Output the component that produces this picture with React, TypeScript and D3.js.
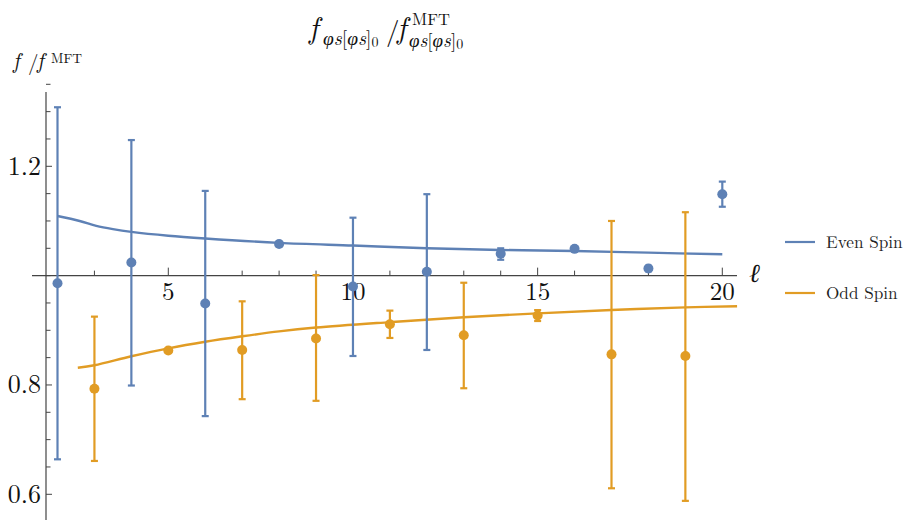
import React from "react";
import * as d3 from "d3";

const evenL = [2, 4, 6, 8, 10, 12, 14, 16, 18, 20];
const evenV = [0.986, 1.024, 0.949, 1.058, 0.98, 1.007, 1.04, 1.049, 1.013, 1.149];
const evenLo = [0.664, 0.799, 0.743, 1.057, 0.853, 0.864, 1.029, 1.047, 1.008, 1.126];
const evenHi = [1.308, 1.248, 1.155, 1.059, 1.106, 1.149, 1.05, 1.051, 1.018, 1.172];

const oddL = [3, 5, 7, 9, 11, 13, 15, 17, 19];
const oddV = [0.793, 0.863, 0.864, 0.885, 0.911, 0.891, 0.927, 0.856, 0.853];
const oddLo = [0.661, 0.86, 0.774, 0.771, 0.886, 0.794, 0.917, 0.611, 0.588];
const oddHi = [0.925, 0.866, 0.953, 1.001, 0.936, 0.987, 0.937, 1.1, 1.116];

const evenCurveL = [2, 2.6, 3.05, 3.5, 4, 5, 6, 8, 10, 12, 14, 16, 18, 20];
const evenCurveV = [1.109, 1.1, 1.091, 1.085, 1.08, 1.073, 1.068, 1.06, 1.055, 1.05, 1.047, 1.045, 1.042, 1.039];

const oddCurveL = [2.55, 3, 4, 5, 6, 7, 8, 9, 11, 13, 15, 17, 19, 20.4];
const oddCurveV = [0.8315, 0.836, 0.8525, 0.867, 0.879, 0.889, 0.898, 0.905, 0.915, 0.924, 0.931, 0.937, 0.942, 0.944];

const xTickMajor = [5, 10, 15, 20];
const yTickMajor = [0.6, 0.8, 1.2];

const BLUE = "#5E81B5";
const ORANGE = "#E19C24";
const AXIS = "#444";
const SERIF = '"Latin Modern Roman", "Liberation Serif", serif';

export default function App() {
  const x = d3.scaleLinear().domain([2, 20]).range([57.5, 722.3]);
  const y = d3.scaleLinear().domain([0.6, 1.2]).range([494.3, 166.3]);
  const axisY = y(1);
  const axisX = 46;

  const line = d3
    .line<[number, number]>()
    .x((d) => x(d[0]))
    .y((d) => y(d[1]))
    .curve(d3.curveCatmullRom.alpha(0.5));

  const evenCurve = evenCurveL.map((l, i) => [l, evenCurveV[i]] as [number, number]);
  const oddCurve = oddCurveL.map((l, i) => [l, oddCurveV[i]] as [number, number]);

  const xMinor = d3.range(2, 21);
  const yMinor = d3.range(0.55, 1.3501, 0.05);

  const series = [
    { L: evenL, V: evenV, Lo: evenLo, Hi: evenHi, c: BLUE },
    { L: oddL, V: oddV, Lo: oddLo, Hi: oddHi, c: ORANGE },
  ];

  const ts = { fontFamily: SERIF };

  return (
    <svg
      width={905}
      height={520}
      style={{ position: "absolute", left: 0, top: 0, background: "#fff", fontFamily: SERIF }}
    >
      {/* axes */}
      <line x1={32} x2={737} y1={axisY} y2={axisY} stroke={AXIS} strokeWidth={1.2} />
      <line x1={axisX} x2={axisX} y1={92} y2={520} stroke={AXIS} strokeWidth={1.2} />
      {xMinor.map((t) => {
        const major = xTickMajor.includes(t);
        return (
          <line
            key={"xt" + t}
            x1={x(t)}
            x2={x(t)}
            y1={axisY}
            y2={axisY - (major ? 8 : 5)}
            stroke={AXIS}
            strokeWidth={1}
          />
        );
      })}
      {yMinor.map((t) => {
        const major = yTickMajor.some((m) => Math.abs(m - t) < 1e-6);
        return (
          <line
            key={"yt" + t.toFixed(2)}
            x1={axisX}
            x2={axisX + (major ? 6 : 4.5)}
            y1={y(t)}
            y2={y(t)}
            stroke={AXIS}
            strokeWidth={1}
          />
        );
      })}
      {xTickMajor.map((t) => (
        <text key={"xl" + t} x={x(t)} y={300} fontSize={25} textAnchor="middle" fill="#111" style={ts}>
          {t}
        </text>
      ))}
      {yTickMajor.map((t) => (
        <text key={"yl" + t} x={41} y={y(t) + 8.5} fontSize={26} textAnchor="end" fill="#111" style={ts}>
          {t.toFixed(1)}
        </text>
      ))}
      <text x={749} y={282} fontSize={26} fontStyle="italic" fill="#111" style={ts}>
        ℓ
      </text>

      {/* curves */}
      <path d={line(evenCurve) || ""} fill="none" stroke={BLUE} strokeWidth={2.4} />
      <path d={line(oddCurve) || ""} fill="none" stroke={ORANGE} strokeWidth={2.4} />

      {/* error bars and points */}
      {series.map((s, si) =>
        s.L.map((l, i) => (
          <g key={"p" + si + "_" + i}>
            <line x1={x(l)} x2={x(l)} y1={y(s.Lo[i])} y2={y(s.Hi[i])} stroke={s.c} strokeWidth={2.2} />
            <line x1={x(l) - 3.5} x2={x(l) + 3.5} y1={y(s.Lo[i])} y2={y(s.Lo[i])} stroke={s.c} strokeWidth={2.2} />
            <line x1={x(l) - 3.5} x2={x(l) + 3.5} y1={y(s.Hi[i])} y2={y(s.Hi[i])} stroke={s.c} strokeWidth={2.2} />
            <circle cx={x(l)} cy={y(s.V[i])} r={5} fill={s.c} />
          </g>
        ))
      )}

      {/* title */}
      <g fill="#111" style={ts}>
        <text x={309} y={38} fontSize={30} fontStyle="italic" style={ts}>f</text>
        <text x={323} y={44.5} fontSize={19.5} style={ts}>
          <tspan fontStyle="italic">φs</tspan>[<tspan fontStyle="italic">φs</tspan>]<tspan fontSize={14} dy={2.5}>0</tspan>
        </text>
        <text x={386} y={40} fontSize={27} style={ts}>/</text>
        <text x={397} y={38} fontSize={30} fontStyle="italic" style={ts}>f</text>
        <text x={412} y={25} fontSize={16.5} style={ts}>MFT</text>
        <text x={409} y={46.5} fontSize={19} style={ts}>
          <tspan fontStyle="italic">φs</tspan>[<tspan fontStyle="italic">φs</tspan>]<tspan fontSize={14} dy={2.5}>0</tspan>
        </text>
      </g>

      {/* y label */}
      <g fill="#111">
        <text x={13} y={68} fontSize={22} fontStyle="italic" style={ts}>f</text>
        <text x={28} y={70} fontSize={21} style={ts}>/</text>
        <text x={37} y={68} fontSize={22} fontStyle="italic" style={ts}>f</text>
        <text x={51} y={63} fontSize={13.5} style={ts}>MFT</text>
      </g>

      {/* legend */}
      <line x1={785} x2={815} y1={242} y2={242} stroke={BLUE} strokeWidth={2.2} />
      <text x={826} y={248} fontSize={17.2} fill="#222" style={ts}>Even Spin</text>
      <line x1={785} x2={815} y1={293} y2={293} stroke={ORANGE} strokeWidth={2.2} />
      <text x={826} y={299} fontSize={17.2} fill="#222" style={ts}>Odd Spin</text>
    </svg>
  );
}
